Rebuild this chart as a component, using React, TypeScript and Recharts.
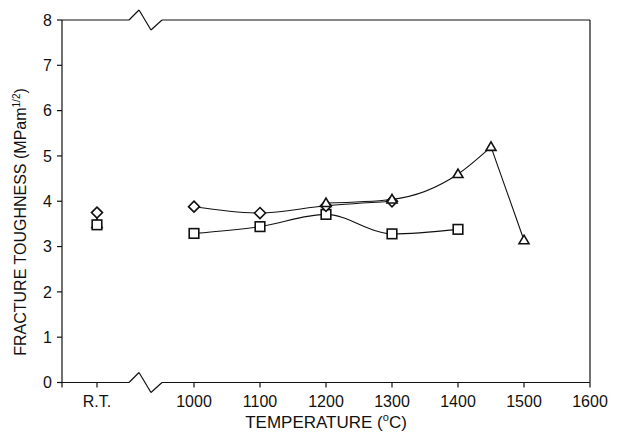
import { ComposedChart, Line, XAxis, YAxis, ReferenceLine } from 'recharts'

// x position used for the room temperature column
const RT_X = 853
const xTicks = [800, RT_X, 1000, 1100, 1200, 1300, 1400, 1500, 1600]
const yTicks = [0, 1, 2, 3, 4, 5, 6, 7, 8]

const diamondTemps = [1000, 1100, 1200, 1300]
const diamondK = [3.88, 3.74, 3.9, 4.0]
const squareTemps = [1000, 1100, 1200, 1300, 1400]
const squareK = [3.29, 3.44, 3.71, 3.28, 3.38]
const triangleTemps = [1200, 1300, 1400, 1450, 1500]
const triangleK = [3.96, 4.04, 4.6, 5.2, 3.14]
const rtDiamondK = 3.75
const rtSquareK = 3.48
const rtTriangleK = 3.5

// axis break (zigzag) in data units
const BREAK = [
  { x: 901.5, d: 0 },
  { x: 916.7, d: 0.22 },
  { x: 934.8, d: -0.22 },
  { x: 951.5, d: 0 },
]

const toPoints = (xs: number[], ys: number[]) => xs.map((x, i) => ({ x, y: ys[i] }))

const diamondData = toPoints(diamondTemps, diamondK)
const squareData = toPoints(squareTemps, squareK)
const triangleData = toPoints(triangleTemps, triangleK)
const triCurve = triangleData.slice(0, 4)
const triDrop = triangleData.slice(3)

const font = '"Liberation Sans", Arial, sans-serif'
const ink = '#111'

function Diamond(p: any) {
  const { cx, cy } = p
  if (cx == null || cy == null) return <g key={p.index} />
  const r = 5.5
  return (
    <path
      key={p.index}
      d={`M${cx},${cy - r}L${cx + r},${cy}L${cx},${cy + r}L${cx - r},${cy}Z`}
      fill="#fff"
      stroke={ink}
      strokeWidth={1.6}
    />
  )
}

function Square(p: any) {
  const { cx, cy } = p
  if (cx == null || cy == null) return <g key={p.index} />
  const r = 4.8
  return <rect key={p.index} x={cx - r} y={cy - r} width={2 * r} height={2 * r} fill="#fff" stroke={ink} strokeWidth={1.6} />
}

function Triangle(p: any) {
  const { cx, cy } = p
  if (cx == null || cy == null) return <g key={p.index} />
  return (
    <path
      key={p.index}
      d={`M${cx},${cy - 5}L${cx + 5},${cy + 3.5}L${cx - 5},${cy + 3.5}Z`}
      fill="#fff"
      stroke={ink}
      strokeWidth={1.6}
    />
  )
}

// only the end point of the drop segment gets a marker (the peak is drawn by the curve)
function LastTriangle(p: any) {
  if (p.index !== 1) return <g key={p.index} />
  return Triangle(p)
}

const tickStyle = { fill: ink, fontSize: 16, fontFamily: font }

export default function App() {
  const breakSegs = (level: number) =>
    BREAK.slice(1).map((pt, i) => (
      <ReferenceLine
        key={`b${level}-${i}`}
        xAxisId="b"
        yAxisId="l"
        ifOverflow="visible"
        stroke={ink}
        strokeWidth={1.2}
        segment={[
          { x: BREAK[i].x, y: level + BREAK[i].d },
          { x: pt.x, y: level + pt.d },
        ]}
      />
    ))

  const axisSegs = (level: number) => [
    <ReferenceLine
      key={`a${level}-0`}
      xAxisId="b"
      yAxisId="l"
      ifOverflow="visible"
      stroke={ink}
      strokeWidth={1.2}
      segment={[{ x: 800, y: level }, { x: BREAK[0].x, y: level }]}
    />,
    <ReferenceLine
      key={`a${level}-1`}
      xAxisId="b"
      yAxisId="l"
      ifOverflow="visible"
      stroke={ink}
      strokeWidth={1.2}
      segment={[{ x: BREAK[3].x, y: level }, { x: 1600, y: level }]}
    />,
  ]

  return (
    <div style={{ position: 'absolute', left: 0, top: 0, width: 621, height: 438, background: '#fff', fontFamily: font }}>
      <ComposedChart width={621} height={438} margin={{ top: 15, right: 26, bottom: 25.5, left: 32 }}>
        <XAxis
          xAxisId="b"
          type="number"
          dataKey="x"
          domain={[800, 1600]}
          ticks={xTicks}
          interval={0}
          tickFormatter={(v: number) => (v === RT_X ? 'R.T.' : v === 800 ? '' : String(v))}
          axisLine={false}
          tickLine={{ stroke: ink, strokeWidth: 1.2 }}
          tickSize={5}
          tickMargin={8}
          height={30}
          tick={tickStyle}
        />
        <XAxis
          xAxisId="t"
          orientation="top"
          type="number"
          dataKey="x"
          domain={[800, 1600]}
          ticks={xTicks}
          interval={0}
          tickFormatter={() => ''}
          axisLine={false}
          tickLine={{ stroke: ink, strokeWidth: 1.2 }}
          tickSize={5}
          height={5}
        />
        <YAxis
          yAxisId="l"
          type="number"
          domain={[0, 8]}
          ticks={yTicks}
          interval={0}
          axisLine={{ stroke: ink, strokeWidth: 1.2 }}
          tickLine={{ stroke: ink, strokeWidth: 1.2 }}
          tickSize={5}
          tickMargin={5}
          width={30}
          tick={tickStyle}
        />
        <YAxis
          yAxisId="r"
          orientation="right"
          type="number"
          domain={[0, 8]}
          ticks={yTicks}
          interval={0}
          tickFormatter={() => ''}
          axisLine={{ stroke: ink, strokeWidth: 1.2 }}
          tickLine={{ stroke: ink, strokeWidth: 1.2 }}
          tickSize={5}
          width={5}
        />

        {axisSegs(0)}
        {axisSegs(8)}
        {breakSegs(0)}
        {breakSegs(8)}

        <Line xAxisId="b" yAxisId="l" data={squareData} dataKey="y" type="monotone" stroke={ink} strokeWidth={1.1} dot={Square} isAnimationActive={false} />
        <Line xAxisId="b" yAxisId="l" data={diamondData} dataKey="y" type="monotone" stroke={ink} strokeWidth={1.1} dot={Diamond} isAnimationActive={false} />
        <Line xAxisId="b" yAxisId="l" data={triDrop} dataKey="y" type="linear" stroke={ink} strokeWidth={1.1} dot={LastTriangle} isAnimationActive={false} />
        <Line xAxisId="b" yAxisId="l" data={triCurve} dataKey="y" type="monotone" stroke={ink} strokeWidth={1.1} dot={Triangle} isAnimationActive={false} />

        <Line xAxisId="b" yAxisId="l" data={[{ x: RT_X, y: rtDiamondK }]} dataKey="y" stroke="none" dot={Diamond} isAnimationActive={false} />
        <Line xAxisId="b" yAxisId="l" data={[{ x: RT_X, y: rtTriangleK }]} dataKey="y" stroke="none" dot={Triangle} isAnimationActive={false} />
        <Line xAxisId="b" yAxisId="l" data={[{ x: RT_X, y: rtSquareK }]} dataKey="y" stroke="none" dot={Square} isAnimationActive={false} />
      </ComposedChart>

      <div
        style={{
          position: 'absolute',
          left: 226,
          top: 414,
          width: 200,
          textAlign: 'center',
          fontSize: 17,
          lineHeight: '17px',
          color: ink,
          whiteSpace: 'nowrap',
        }}
      >
        TEMPERATURE (<span style={{ fontSize: 11, position: 'relative', top: -7 }}>o</span>C)
      </div>
      <div
        style={{
          position: 'absolute',
          left: 22,
          top: 222,
          transform: 'translate(-50%, -50%) rotate(-90deg)',
          fontSize: 16,
          lineHeight: '16px',
          color: ink,
          whiteSpace: 'nowrap',
        }}
      >
        FRACTURE TOUGHNESS (MPam<span style={{ fontSize: 10, position: 'relative', top: -6 }}>1/2</span>)
      </div>
    </div>
  )
}
